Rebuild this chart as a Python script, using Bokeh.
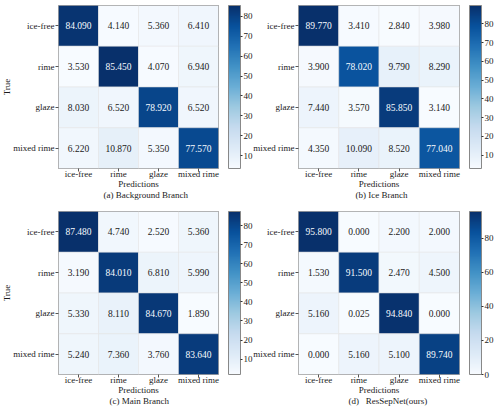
from bokeh.plotting import figure
from bokeh.models import (FactorRange, LinearColorMapper, ColorBar, FixedTicker,
                          ColumnDataSource, Title)
from bokeh.layouts import row, column
from bokeh.palettes import Blues256
from bokeh.embed import file_html
from bokeh.resources import INLINE
from bokeh.core.properties import value

# ---- data ----
classes = ["ice-free", "rime", "glaze", "mixed rime"]

background_branch = [[84.090, 4.140, 5.360, 6.410],
                     [3.530, 85.450, 4.070, 6.940],
                     [8.030, 6.520, 78.920, 6.520],
                     [6.220, 10.870, 5.350, 77.570]]
ice_branch = [[89.770, 3.410, 2.840, 3.980],
              [3.900, 78.020, 9.790, 8.290],
              [7.440, 3.570, 85.850, 3.140],
              [4.350, 10.090, 8.520, 77.040]]
main_branch = [[87.480, 4.740, 2.520, 5.360],
               [3.190, 84.010, 6.810, 5.990],
               [5.330, 8.110, 84.670, 1.890],
               [5.240, 7.360, 3.760, 83.640]]
ressepnet = [[95.800, 0.000, 2.200, 2.000],
             [1.530, 91.500, 2.470, 4.500],
             [5.160, 0.025, 94.840, 0.000],
             [0.000, 5.160, 5.100, 89.740]]

captions = ["(a) Background Branch", "(b) Ice Branch",
            "(c) Main Branch", "(d)\u00a0\u00a0 ResSepNet(ours)"]
cbar_ticks_abc = [10, 20, 30, 40, 50, 60, 70, 80]
cbar_ticks_d = [0, 20, 40, 60, 80]

FONT = "Liberation Serif"
PAL = list(reversed(Blues256))
FS = "9px"


def make(matrix, caption, ticks, left, cap_offset):
    vals = [v for r in matrix for v in r]
    lo, hi = min(vals), max(vals)
    thresh = (lo + hi) / 2
    xs, ys, vs, ts, cs = [], [], [], [], []
    for i, r in enumerate(matrix):
        for j, v in enumerate(r):
            xs.append(classes[j]); ys.append(classes[i]); vs.append(v)
            ts.append("%.3f" % v)
            cs.append("#f7fbff" if v > thresh else "#1a1a1a")
    src = ColumnDataSource(dict(x=xs, y=ys, v=vs, t=ts, c=cs))
    mapper = LinearColorMapper(palette=PAL, low=lo, high=hi)

    p = figure(frame_width=160 if left else 161, frame_height=163,
               x_range=FactorRange(*classes), y_range=FactorRange(*classes[::-1]),
               output_backend="svg", toolbar_location=None,
               min_border_left=58 if left else 46,
               min_border_right=37 if left else 38,
               min_border_top=5, min_border_bottom=38)
    if not left:
        p.border_fill_color = None
        p.margin = (0, 0, 0, -5)
    p.rect(x="x", y="y", width=1, height=1, source=src,
           fill_color={"field": "v", "transform": mapper},
           line_color="#e2e2e2", line_width=0.5)
    p.text(x="x", y="y", text="t", source=src, text_align="center",
           text_baseline="middle", text_font=value(FONT),
           text_font_size="9.5px", text_color="c")
    p.grid.visible = False
    p.outline_line_color = "#888888"
    p.outline_line_width = 1
    for ax in (p.xaxis[0], p.yaxis[0]):
        ax.axis_line_color = None
        ax.major_tick_in = 0
        ax.major_tick_out = 3
        ax.major_tick_line_color = "#555555"
        ax.major_label_text_font = FONT
        ax.major_label_text_font_size = FS
        ax.major_label_text_color = "#1a1a1a"
        ax.axis_label_text_font = FONT
        ax.axis_label_text_font_size = FS
        ax.axis_label_text_font_style = "normal"
        ax.axis_label_text_color = "#1a1a1a"
    p.xaxis.axis_label = "Predictions"
    p.xaxis.major_label_standoff = -3
    p.xaxis.axis_label_standoff = -3
    p.xaxis.major_label_orientation = "horizontal"
    p.yaxis.major_label_standoff = 1
    if left:
        ylab = Title(text="True", align="center", text_font=FONT,
                     text_font_size=FS, text_font_style="normal",
                     text_color="#1a1a1a", standoff=-2)
        p.add_layout(ylab, "left")

    cb = ColorBar(color_mapper=mapper, ticker=FixedTicker(ticks=ticks),
                  width=12, height=163, padding=0, margin=0, location=(10, 0),
                  major_label_text_font=FONT, major_label_text_font_size=FS,
                  major_label_text_color="#1a1a1a",
                  major_tick_in=0, major_tick_out=2,
                  major_tick_line_color="#333333",
                  bar_line_color="#888888", label_standoff=1,
                  background_fill_color=None, border_line_color=None)
    p.add_layout(cb, "right")

    t = Title(text=caption, align="left", offset=cap_offset,
              text_font=FONT, text_font_size=FS, text_font_style="normal",
              text_color="#1a1a1a", standoff=-7)
    p.add_layout(t, "below")
    return p


pa = make(background_branch, captions[0], cbar_ticks_abc, True, 45)
pb = make(ice_branch, captions[1], cbar_ticks_abc, False, 57)
pc = make(main_branch, captions[2], cbar_ticks_abc, True, 51)
pd = make(ressepnet, captions[3], cbar_ticks_d, False, 50)

layout = column(row(pa, pb, spacing=0), row(pc, pd, spacing=0), spacing=0)
open("out.html", "w").write(file_html(layout, INLINE))
